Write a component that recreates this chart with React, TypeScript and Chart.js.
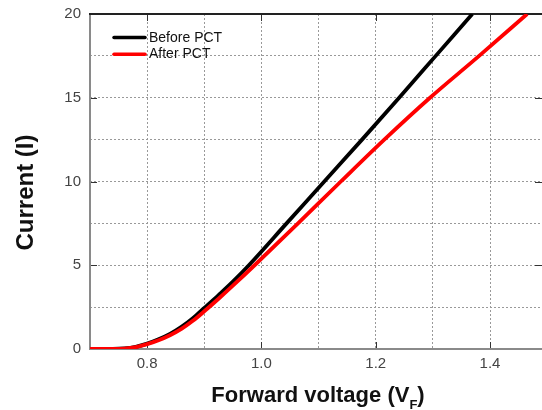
import { useEffect, useRef } from 'react';
import { Chart, registerables } from 'chart.js';

Chart.register(...registerables);

// ---- data ----
const seriesNames = ['Before PCT', 'After PCT'];
const seriesColors = ['#000000', '#ff0000'];

const voltageBefore = [0.70, 0.74, 0.76, 0.78, 0.80, 0.82, 0.84, 0.86, 0.88, 0.90, 0.925, 0.95, 0.978, 1.044, 1.110, 1.176, 1.241, 1.305, 1.369];
const currentBefore = [0, 0, 0.03, 0.13, 0.32, 0.58, 0.9, 1.32, 1.84, 2.45, 3.22, 4.02, 5.0, 7.5, 10.0, 12.5, 15.0, 17.5, 20.0];

const voltageAfter = [0.70, 0.74, 0.76, 0.78, 0.80, 0.82, 0.84, 0.86, 0.88, 0.90, 0.925, 0.95, 0.988, 1.064, 1.139, 1.215, 1.295, 1.381, 1.465];
const currentAfter = [0, 0, 0.02, 0.11, 0.29, 0.52, 0.82, 1.2, 1.68, 2.25, 3.0, 3.78, 5.0, 7.5, 10.0, 12.5, 15.0, 17.5, 20.0];

const xTickLabels = ['0.8', '1.0', '1.2', '1.4'];
const yTickLabels = ['0', '5', '10', '15', '20'];

const xTitleMain = 'Forward voltage (V';
const xTitleSub = 'F';
const xTitleEnd = ')';
const yTitle = 'Current (I)';

const FONT = "Arial, 'Liberation Sans', Helvetica, sans-serif";

const decorPlugin = {
  id: 'decor',
  beforeDatasetsDraw(chart: any) {
    const { ctx, chartArea } = chart;
    const { left, right, top, bottom } = chartArea;
    const xs = chart.scales.x;
    const ys = chart.scales.y;
    ctx.save();
    // inward major tick marks
    ctx.strokeStyle = '#333';
    ctx.lineWidth = 1;
    ctx.beginPath();
    xTickLabels.map(Number).forEach((v) => {
      const px = Math.round(xs.getPixelForValue(v)) + 0.5;
      ctx.moveTo(px, bottom);
      ctx.lineTo(px, bottom - 7);
      ctx.moveTo(px, top);
      ctx.lineTo(px, top + 7);
    });
    yTickLabels.map(Number).forEach((v) => {
      const py = Math.round(ys.getPixelForValue(v)) + 0.5;
      ctx.moveTo(left, py);
      ctx.lineTo(left + 7, py);
      ctx.moveTo(right, py);
      ctx.lineTo(right - 7, py);
    });
    ctx.stroke();
    // borders
    ctx.lineWidth = 2;
    ctx.strokeStyle = '#8a8a8a';
    ctx.beginPath();
    ctx.moveTo(left, top);
    ctx.lineTo(left, bottom);
    ctx.lineTo(right, bottom);
    ctx.stroke();
    ctx.strokeStyle = '#222';
    ctx.beginPath();
    ctx.moveTo(left - 1, top);
    ctx.lineTo(right, top);
    ctx.stroke();
    ctx.restore();
  },
  afterDraw(chart: any) {
    const { ctx, chartArea } = chart;
    const { left, top } = chartArea;
    ctx.save();
    // legend
    ctx.lineCap = 'round';
    ctx.lineWidth = 3.5;
    seriesNames.forEach((name, i) => {
      const y = top + 23.5 + i * 16.8;
      ctx.strokeStyle = seriesColors[i];
      ctx.beginPath();
      ctx.moveTo(left + 24, y);
      ctx.lineTo(left + 55, y);
      ctx.stroke();
      ctx.fillStyle = '#111';
      ctx.font = `14px ${FONT}`;
      ctx.textAlign = 'left';
      ctx.textBaseline = 'alphabetic';
      ctx.fillText(name, left + 59, y + 4);
    });
    // x title with subscript
    ctx.fillStyle = '#111';
    ctx.textBaseline = 'alphabetic';
    ctx.textAlign = 'left';
    const mainFont = `bold 22px ${FONT}`;
    const subFont = `bold 13px ${FONT}`;
    ctx.font = mainFont;
    const w1 = ctx.measureText(xTitleMain).width;
    const w3 = ctx.measureText(xTitleEnd).width;
    ctx.font = subFont;
    const w2 = ctx.measureText(xTitleSub).width;
    const total = w1 + w2 + w3;
    const cx = 318;
    const x0 = cx - total / 2;
    const base = 401.5;
    ctx.font = mainFont;
    ctx.fillText(xTitleMain, x0, base);
    ctx.font = subFont;
    ctx.fillText(xTitleSub, x0 + w1, base + 7);
    ctx.font = mainFont;
    ctx.fillText(xTitleEnd, x0 + w1 + w2, base);
    // y title
    ctx.save();
    ctx.translate(26.5, 192.5);
    ctx.rotate(-Math.PI / 2);
    ctx.font = `bold 24px ${FONT}`;
    ctx.textAlign = 'center';
    ctx.textBaseline = 'middle';
    ctx.fillText(yTitle, 0, 0);
    ctx.restore();
    ctx.restore();
  },
};

export default function App() {
  const canvasRef = useRef<HTMLCanvasElement | null>(null);

  useEffect(() => {
    document.body.style.margin = '0';
    const canvas = canvasRef.current;
    if (!canvas) return;
    const toPoints = (xs: number[], ys: number[]) => xs.map((x, i) => ({ x, y: ys[i] }));
    const chart = new Chart(canvas, {
      type: 'line',
      data: {
        datasets: [
          {
            label: seriesNames[0],
            data: toPoints(voltageBefore, currentBefore),
            borderColor: seriesColors[0],
            backgroundColor: seriesColors[0],
            borderWidth: 3.8,
            pointRadius: 0,
            cubicInterpolationMode: 'monotone',
            order: 1,
          },
          {
            label: seriesNames[1],
            data: toPoints(voltageAfter, currentAfter),
            borderColor: seriesColors[1],
            backgroundColor: seriesColors[1],
            borderWidth: 3.8,
            pointRadius: 0,
            cubicInterpolationMode: 'monotone',
            order: 0,
          },
        ],
      },
      options: {
        animation: false,
        responsive: false,
        maintainAspectRatio: false,
        layout: { padding: { top: 14, right: 0, left: 0, bottom: 0 } },
        plugins: {
          legend: { display: false },
          tooltip: { enabled: false },
          title: { display: false },
        },
        scales: {
          x: {
            type: 'linear',
            min: 0.7,
            max: 1.491,
            afterFit: (s: any) => {
              s.height = 61;
              s.paddingLeft = 0;
              s.paddingRight = 0;
            },
            border: { display: false, dash: [2, 2] },
            grid: {
              color: '#999',
              lineWidth: 1,
              drawTicks: false,
            },
            ticks: {
              stepSize: 0.1,
              includeBounds: false,
              autoSkip: false,
              maxRotation: 0,
              padding: 6,
              color: '#444',
              font: { family: FONT, size: 15 },
              callback: (value: any) => {
                const s = Number(value).toFixed(1);
                return xTickLabels.includes(s) ? s : '';
              },
            },
          },
          y: {
            type: 'linear',
            min: 0,
            max: 20,
            afterFit: (s: any) => {
              s.width = 90;
              s.paddingTop = 0;
              s.paddingBottom = 0;
            },
            border: { display: false, dash: [2, 2] },
            grid: {
              color: '#999',
              lineWidth: 1,
              drawTicks: false,
            },
            ticks: {
              stepSize: 2.5,
              autoSkip: false,
              padding: 9,
              color: '#444',
              font: { family: FONT, size: 15 },
              callback: (value: any) => {
                const s = String(Number(value));
                return yTickLabels.includes(s) ? s : '';
              },
            },
          },
        },
      },
      plugins: [decorPlugin],
    } as any);
    return () => chart.destroy();
  }, []);

  return (
    <div style={{ position: 'absolute', left: 0, top: 0, width: 542, height: 410 }}>
      <canvas ref={canvasRef} width={542} height={410} style={{ width: 542, height: 410 }} />
    </div>
  );
}
